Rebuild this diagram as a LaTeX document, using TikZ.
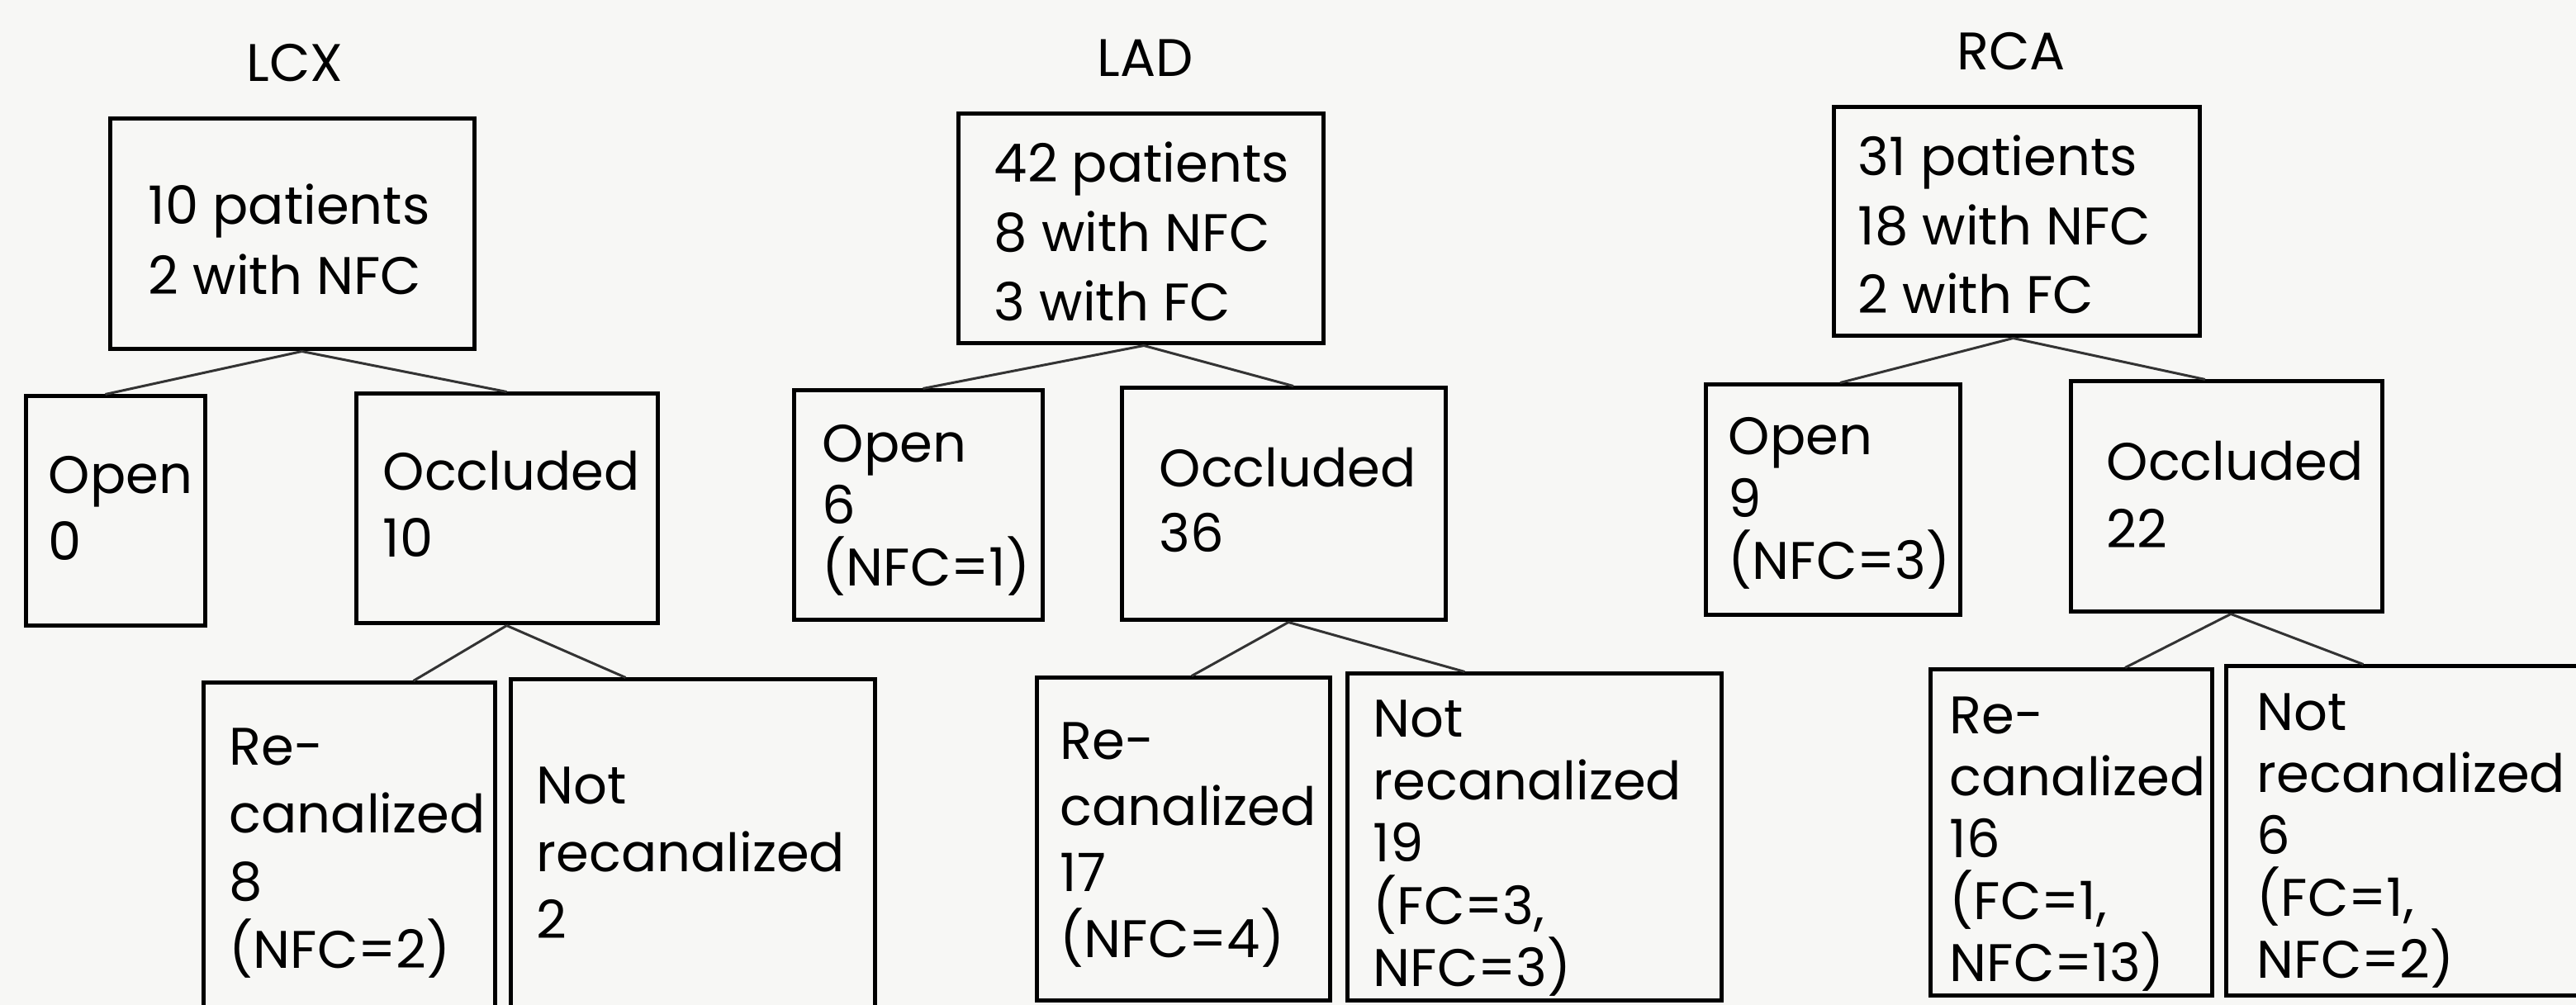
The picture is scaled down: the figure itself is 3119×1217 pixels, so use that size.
\documentclass[tikz,border=0pt]{standalone}
\usepackage{fontspec}
\setmainfont{Poppins}
\usetikzlibrary{fit}
\definecolor{paper}{HTML}{F7F7F5}
\tikzset{
  x=0.25pt, y=-0.25pt,
  box/.style={draw=black, line width=1.25pt, inner sep=0pt},
  conn/.style={draw=black!80, line width=0.75pt},
  lbl/.style={inner sep=0pt, font=\fontsize{16}{19}\selectfont, text=black},
}
\newcommand\boxat[5]{\node[box, fit={(#2,#3) (#4,#5)}] (#1) {};}
\newcommand\txtlines[5]{\foreach \l [count=\i from 0] in {#5} {\node[lbl, anchor=base west] (#1-\i) at (#2, {#3+#4*\i}) {\l};}}
\begin{document}
\begin{tikzpicture}
\useasboundingbox (0,0) rectangle (3119,1217);
\fill[paper] (0,0) rectangle (3119,1217);
\clip (0,0) rectangle (3119,1217);

% ---------------- LCX ----------------
\node[lbl, anchor=base] (lcxlab) at (357,99) {LCX};
\boxat{lcx}{133}{144}{574}{423}
\boxat{lcxopen}{31}{480}{248}{758}
\boxat{lcxocc}{431}{477}{796}{755}
\boxat{lcxre}{246}{827}{599}{1230}
\boxat{lcxnot}{618}{823}{1059}{1230}
\txtlines{lcxt}{179}{272}{85}{10 patients, 2 with NFC}
\txtlines{lcxopent}{58}{598}{81}{Open, 0}
\txtlines{lcxocct}{463}{594}{81}{Occluded, 10}
\txtlines{lcxret}{277}{927}{82}{Re-, canalized, 8, (NFC=2)}
\txtlines{lcxnott}{649}{974}{81.5}{Not, recanalized, 2}
\draw[conn] ([xshift=3pt]lcx.south) -- ([xshift=-3pt]lcxopen.north);
\draw[conn] ([xshift=3pt]lcx.south) -- (lcxocc.north);
\draw[conn] (lcxocc.south) -- ([xshift=19.5pt]lcxre.north);
\draw[conn] (lcxocc.south) -- ([xshift=-20.25pt]lcxnot.north);

% ---------------- LAD ----------------
\node[lbl, anchor=base] (ladlab) at (1387,93) {LAD};
\boxat{lad}{1160}{138}{1602}{416}
\boxat{ladopen}{961}{473}{1262}{751}
\boxat{ladocc}{1358}{470}{1750}{751}
\boxat{ladre}{1255}{821}{1610}{1212}
\boxat{ladnot}{1631}{816}{2084}{1212}
\txtlines{ladt}{1203}{221}{84}{42 patients, 8 with NFC, 3 with FC}
\txtlines{ladopent}{995}{560}{75}{Open, 6, (NFC=1)}
\txtlines{ladocct}{1403}{590}{79}{Occluded, 36}
\txtlines{ladret}{1283}{920}{80}{Re-, canalized, 17, (NFC=4)}
\txtlines{ladnott}{1662}{893}{75.5}{Not, recanalized, 19, {(FC=3,}, NFC=3)}
\draw[conn] ([xshift=1pt]lad.south) -- ([xshift=1.5pt]ladopen.north);
\draw[conn] ([xshift=1pt]lad.south) -- ([xshift=3pt]ladocc.north);
\draw[conn] ([xshift=1.5pt]ladocc.south) -- ([xshift=2.6pt]ladre.north);
\draw[conn] ([xshift=1.5pt]ladocc.south) -- ([xshift=-21pt]ladnot.north);

% ---------------- RCA ----------------
\node[lbl, anchor=base] (rcalab) at (2435,85) {RCA};
\boxat{rca}{2220}{130}{2663}{407}
\boxat{rcaopen}{2065}{466}{2373}{745}
\boxat{rcaocc}{2507}{462}{2884}{741}
\boxat{rcare}{2337}{811}{2678}{1206}
\boxat{rcanot}{2695}{807}{3140}{1206}
\txtlines{rcat}{2249}{213}{83.5}{31 patients, 18 with NFC, 2 with FC}
\txtlines{rcaopent}{2092}{551}{75.5}{Open, 9, (NFC=3)}
\txtlines{rcaocct}{2550}{582}{82}{Occluded, 22}
\txtlines{rcaret}{2360}{889}{75}{Re-, canalized, 16, {(FC=1,}, NFC=13)}
\txtlines{rcanott}{2732}{885}{75}{Not, recanalized, 6, {(FC=1,}, NFC=2)}
\draw[conn] ([xshift=-1pt]rca.south) -- ([xshift=2.25pt]rcaopen.north);
\draw[conn] ([xshift=-1pt]rca.south) -- ([xshift=-6.4pt]rcaocc.north);
\draw[conn] ([xshift=1.4pt]rcaocc.south) -- ([xshift=16.4pt]rcare.north);
\draw[conn] ([xshift=1.4pt]rcaocc.south) -- ([xshift=-14pt]rcanot.north);
\end{tikzpicture}
\end{document}
